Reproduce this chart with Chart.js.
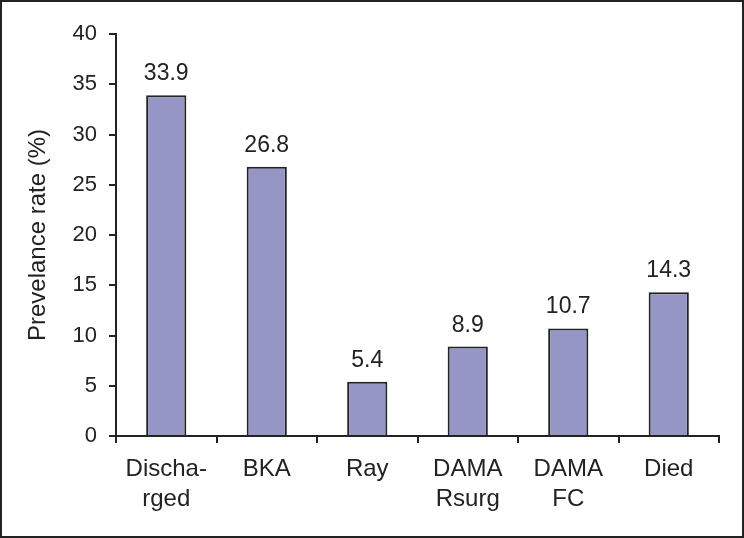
<!DOCTYPE html>
<html>
<head>
<meta charset="utf-8">
<script src="https://cdn.jsdelivr.net/npm/chart.js@4"></script>
<style>
  html, body { margin: 0; padding: 0; background: #fff; }
  #wrap { position: relative; width: 744px; height: 538px; }
</style>
</head>
<body>
<div id="wrap"><canvas id="c"></canvas></div>
<script>
const categories = [["Discha-", "rged"], "BKA", "Ray", ["DAMA", "Rsurg"], ["DAMA", "FC"], "Died"];
const prevalence = [33.9, 26.8, 5.4, 8.9, 10.7, 14.3];
const yTicks = [0, 5, 10, 15, 20, 25, 30, 35, 40];

const ink = "#222222";
const fontFamily = "'Liberation Sans', Arial, sans-serif";

// value labels above each bar
const barLabels = {
  id: "barLabels",
  afterDatasetsDraw(chart) {
    const { ctx } = chart;
    const meta = chart.getDatasetMeta(0);
    ctx.save();
    ctx.fillStyle = ink;
    ctx.font = "23px " + fontFamily;
    ctx.textAlign = "center";
    ctx.textBaseline = "alphabetic";
    meta.data.forEach((bar, i) => {
      ctx.fillText(prevalence[i].toFixed(1), bar.x, bar.y - 15);
    });
    ctx.restore();
  }
};

// thin frame round the whole picture
const frame = {
  id: "frame",
  afterDraw(chart) {
    const { ctx, width, height } = chart;
    ctx.save();
    ctx.strokeStyle = ink;
    ctx.lineWidth = 2;
    ctx.strokeRect(1, 1, width - 2, height - 2);
    ctx.restore();
  }
};

new Chart(document.getElementById("c"), {
  type: "bar",
  data: {
    labels: categories,
    datasets: [{
      data: prevalence,
      backgroundColor: "#9595c6",
      borderColor: ink,
      borderWidth: 2,
      barPercentage: 0.8,
      categoryPercentage: 0.5
    }]
  },
  options: {
    responsive: true,
    maintainAspectRatio: false,
    animation: false,
    layout: { padding: { left: 0, top: 34, right: 25, bottom: 0 } },
    plugins: { legend: { display: false }, tooltip: { enabled: false } },
    scales: {
      x: {
        grid: { display: true, drawOnChartArea: false, drawTicks: true, tickLength: 7, color: ink, lineWidth: 2, offset: true },
        border: { display: true, color: ink, width: 2 },
        ticks: { color: ink, font: { family: fontFamily, size: 24, lineHeight: 1.22 }, padding: 12, maxRotation: 0, autoSkip: false },
        afterFit(scale) { scale.height = 102; }
      },
      y: {
        min: 0,
        max: 40,
        afterBuildTicks(scale) { scale.ticks = yTicks.map(v => ({ value: v })); },
        grid: { display: true, drawOnChartArea: false, drawTicks: true, tickLength: 7, color: ink, lineWidth: 2 },
        border: { display: true, color: ink, width: 2 },
        ticks: { color: ink, font: { family: fontFamily, size: 22 }, padding: 12 },
        title: {
          display: true,
          text: "Prevelance rate (%)",
          color: ink,
          font: { family: fontFamily, size: 24 },
          padding: { top: 24, bottom: 0 }
        },
        afterFit(scale) { scale.width = 116; }
      }
    }
  },
  plugins: [barLabels, frame]
});
</script>
</body>
</html>
